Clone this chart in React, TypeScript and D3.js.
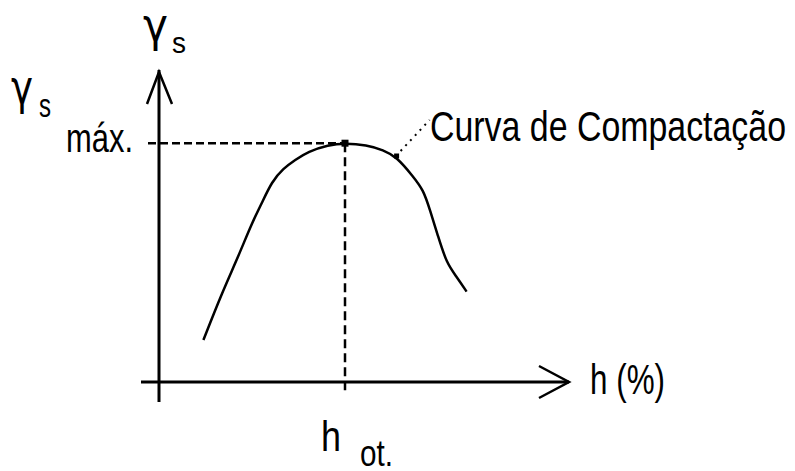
import React from "react";
import * as d3 from "d3";

// Compaction curve: moisture h (arbitrary units) vs dry unit weight γs (arbitrary units)
const curveH = [11.1, 15.7, 19.8, 23.2, 25.7, 28.2, 31.1, 34, 37.3, 42.3, 46.5, 51.9, 56.1, 59.4, 63.6, 66.1, 67.75, 69.8, 71.9, 74.4, 76.9];
const curveG = [10.5, 22.2, 31.3, 39.7, 44.7, 50.1, 53.4, 55.5, 57.6, 59.25, 59.7, 59.25, 58, 56.3, 51.3, 48, 43, 36.3, 29.7, 26.3, 22.6];
const peakH = 46.5;
const peakG = 59.7;
const calloutH = 59.4;
const calloutG = 56.5;
const labelCurve = "Curva de Compactação";
const labelX = "h (%)";
const labelOpt = ["h", "ot."];
const labelMax = ["γ", "s", "máx."];

const W = 795;
const H = 471;

export default function App() {
  const x = d3.scaleLinear().domain([0, 100]).range([159, 559]);
  const y = d3.scaleLinear().domain([0, 60]).range([382, 142]);

  const pts: [number, number][] = curveH.map((h, i) => [h, curveG[i]]);
  const line = d3
    .line<[number, number]>()
    .x((d) => x(d[0]))
    .y((d) => y(d[1]))
    .curve(d3.curveBasis);

  const x0 = x(0);
  const y0 = y(0);
  const xEnd = x(102.5);
  const yEnd = y(78);
  const font = "'Liberation Sans', Arial, sans-serif";
  const gfont = "'DejaVu Sans', sans-serif";

  return (
    <svg
      width={W}
      height={H}
      viewBox={`0 0 ${W} ${H}`}
      style={{ position: "absolute", left: 0, top: 0, background: "#fff" }}
    >
      <rect width={W} height={H} fill="#fff" />
      {/* axes */}
      <line x1={x(-4.5)} y1={y0} x2={xEnd} y2={y0} stroke="#000" strokeWidth={3} />
      <line x1={x0} y1={y(-5)} x2={x0} y2={yEnd} stroke="#000" strokeWidth={3} />
      {/* arrow heads */}
      <polyline
        points={`${xEnd - 30},${y0 - 16} ${xEnd},${y0} ${xEnd - 30},${y0 + 16}`}
        fill="none"
        stroke="#000"
        strokeWidth={2.5}
      />
      <polyline
        points={`${x0 - 12},${yEnd + 34} ${x0},${yEnd + 2} ${x0 + 13},${yEnd + 34}`}
        fill="none"
        stroke="#000"
        strokeWidth={2.5}
      />
      {/* dashed guides */}
      <line
        x1={x(-2.75)}
        y1={y(peakG)}
        x2={x(peakH)}
        y2={y(peakG)}
        stroke="#000"
        strokeWidth={2.5}
        strokeDasharray="8,4"
      />
      <line
        x1={x(peakH)}
        y1={y(peakG)}
        x2={x(peakH)}
        y2={y(-3)}
        stroke="#000"
        strokeWidth={2.5}
        strokeDasharray="9,5"
      />
      {/* curve */}
      <path d={line(pts) || ""} fill="none" stroke="#000" strokeWidth={2.5} />
      {/* peak marker */}
      <rect x={x(peakH) - 3.5} y={y(peakG) - 3.5} width={7} height={7} fill="#000" />
      <rect x={x(calloutH) - 2.5} y={y(calloutG) - 2.5} width={5} height={5} fill="#000" />
      {/* callout leader */}
      <line
        x1={x(calloutH) + 4}
        y1={y(calloutG) - 5}
        x2={x(calloutH) + 33}
        y2={y(calloutG) - 36}
        stroke="#000"
        strokeWidth={2}
        strokeDasharray="2,5"
      />
      {/* texts */}
      <text x={430} y={141} fontFamily={font} fontSize={42} textLength={356} lengthAdjust="spacingAndGlyphs">
        {labelCurve}
      </text>
      <text x={590} y={394} fontFamily={font} fontSize={42} textLength={75} lengthAdjust="spacingAndGlyphs">
        {labelX}
      </text>
      <text x={321} y={451} fontFamily={font} fontSize={42} textLength={20} lengthAdjust="spacingAndGlyphs">
        {labelOpt[0]}
      </text>
      <text x={360} y={466} fontFamily={font} fontSize={36} textLength={33} lengthAdjust="spacingAndGlyphs">
        {labelOpt[1]}
      </text>
      {/* top y label */}
      <text x={143} y={41} fontFamily={gfont} fontSize={46} textLength={25} lengthAdjust="spacingAndGlyphs">
        {labelMax[0]}
      </text>
      <text x={172} y={53} fontFamily={font} fontSize={30} textLength={14} lengthAdjust="spacingAndGlyphs">
        {labelMax[1]}
      </text>
      {/* left max label */}
      <text x={11} y={104} fontFamily={gfont} fontSize={48} textLength={22} lengthAdjust="spacingAndGlyphs">
        {labelMax[0]}
      </text>
      <text x={39} y={117} fontFamily={font} fontSize={34} textLength={12} lengthAdjust="spacingAndGlyphs">
        {labelMax[1]}
      </text>
      <text x={66} y={152} fontFamily={font} fontSize={40} textLength={67} lengthAdjust="spacingAndGlyphs">
        {labelMax[2]}
      </text>
    </svg>
  );
}
